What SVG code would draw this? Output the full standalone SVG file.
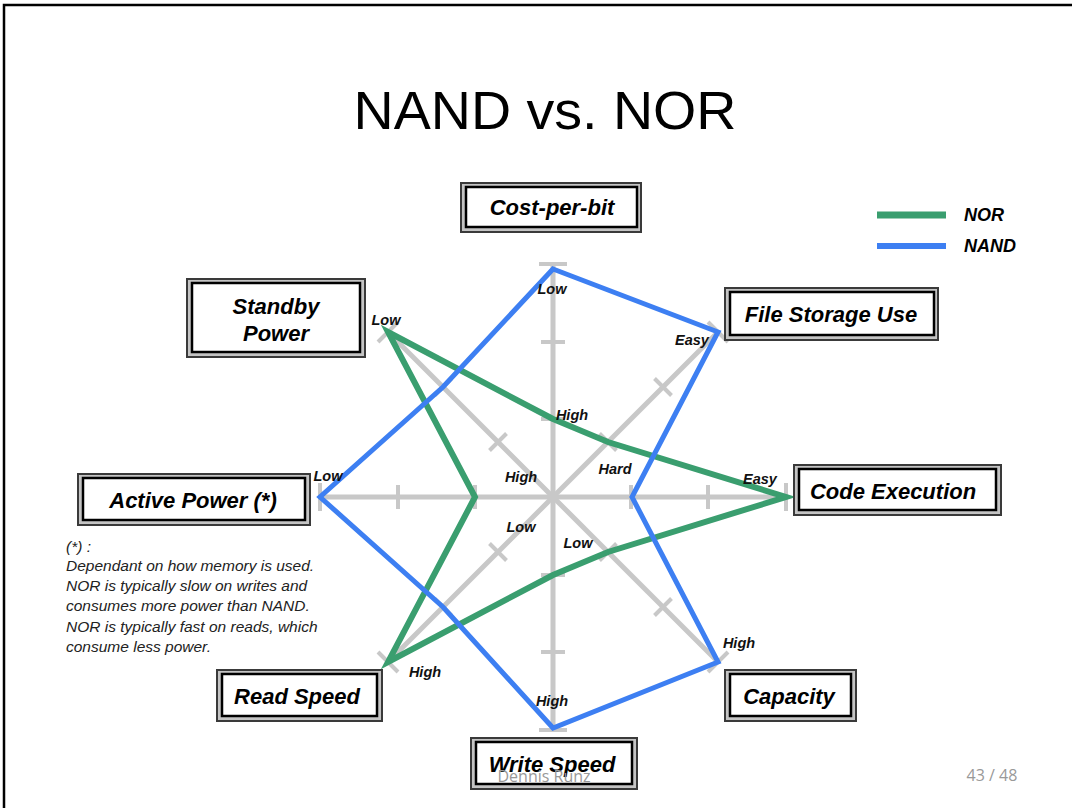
<svg xmlns="http://www.w3.org/2000/svg" width="1072" height="808" viewBox="0 0 1072 808">
  <style>
    .title { font-family: "Liberation Sans", Arial, sans-serif; font-size: 54px; fill: #000; }
    .box-outer { fill: #c4c4c4; stroke: #3a3a3a; stroke-width: 2; }
    .box-inner { fill: #fff; stroke: #000; stroke-width: 2.5; }
    .box-text { font-family: "Liberation Sans", Arial, sans-serif; font-weight: bold; font-style: italic; font-size: 22px; fill: #000; text-anchor: middle; }
    .tick-label { font-family: "Liberation Sans", Arial, sans-serif; font-weight: bold; font-style: italic; font-size: 14.5px; fill: #111; text-anchor: middle; }
    .axis { stroke: #c8c8c8; stroke-width: 5; fill: none; }
    .tick { stroke: #c8c8c8; stroke-width: 4; fill: none; }
    .nor { stroke: #3a9e6f; stroke-width: 6; fill: none; stroke-linejoin: miter; }
    .nand { stroke: #3d7ff2; stroke-width: 5; fill: none; stroke-linejoin: miter; }
    .note { font-family: "Liberation Sans", Arial, sans-serif; font-style: italic; font-size: 15.5px; fill: #222; }
    .legend-text { font-family: "Liberation Sans", Arial, sans-serif; font-weight: bold; font-style: italic; font-size: 18px; fill: #000; }
    .footer { font-family: "Open Sans", "Liberation Sans", sans-serif; font-size: 16px; fill: #999; }
  </style>

  <rect width="1072" height="808" fill="#fff"/>

  <!-- slide frame -->
  <path d="M4 808 V5 H1072" fill="none" stroke="#000" stroke-width="2.5"/>

  <text class="title" x="545" y="129" text-anchor="middle" textLength="383" lengthAdjust="spacingAndGlyphs">NAND vs. NOR</text>

  <!-- radar grid: 8 axes around (553,497), tick marks at 1/3 and 2/3 -->
  <g id="axes">
    <line class="axis" x1="553" y1="264" x2="553" y2="730"/>
    <line class="axis" x1="320" y1="497" x2="786" y2="497"/>
    <line class="axis" x1="388" y1="332" x2="718" y2="662"/>
    <line class="axis" x1="718" y1="332" x2="388" y2="662"/>
    <!-- vertical ticks -->
    <path class="tick" d="M539 264 H567 M541 342 H565 M541 419 H565 M541 575 H565 M541 652 H565 M539 730 H567"/>
    <!-- horizontal ticks -->
    <path class="tick" d="M320 483 V511 M398 485 V509 M475 485 V509 M631 485 V509 M708 485 V509 M786 483 V511"/>
    <!-- diagonal ticks, upper-left to lower-right -->
    <path class="tick" d="M378 342 L398 322 M434.5 395.5 L451.5 378.5 M489.5 450.5 L506.5 433.5 M599.5 560.5 L616.5 543.5 M654.5 615.5 L671.5 598.5 M708 672 L728 652"/>
    <!-- diagonal ticks, upper-right to lower-left -->
    <path class="tick" d="M708 322 L728 342 M654.5 378.5 L671.5 395.5 M599.5 433.5 L616.5 450.5 M489.5 543.5 L506.5 560.5 M434.5 598.5 L451.5 615.5 M378 652 L398 672"/>
  </g>

  <!-- data series -->
  <g id="connectors">
    <polygon id="nor-series" class="nor" points="553,419 608,442 786,497 608,552 553,575 388,662 475,497 388,332"/>
    <polygon id="nand-series" class="nand" points="553,269 718,332 632,497 718,662 553,728 443,607 320,497 443,387"/>
  </g>

  <!-- value labels along the axes -->
  <g id="value-labels">
    <text class="tick-label" x="552" y="294">Low</text>
    <text class="tick-label" x="692" y="345">Easy</text>
    <text class="tick-label" x="572" y="420">High</text>
    <text class="tick-label" x="615" y="474">Hard</text>
    <text class="tick-label" x="521" y="482">High</text>
    <text class="tick-label" x="521" y="532">Low</text>
    <text class="tick-label" x="578" y="548">Low</text>
    <text class="tick-label" x="760" y="484">Easy</text>
    <text class="tick-label" x="739" y="648">High</text>
    <text class="tick-label" x="552" y="706">High</text>
    <text class="tick-label" x="425" y="677">High</text>
    <text class="tick-label" x="328" y="481">Low</text>
    <text class="tick-label" x="386" y="325">Low</text>
  </g>

  <!-- axis title boxes -->
  <g id="cost-per-bit">
    <rect class="box-outer" x="461" y="183" width="180" height="49"/>
    <rect class="box-inner" x="466" y="187" width="171" height="40"/>
    <text class="box-text" x="552" y="215">Cost-per-bit</text>
  </g>
  <g id="file-storage-use">
    <rect class="box-outer" x="725" y="288" width="213" height="52"/>
    <rect class="box-inner" x="730" y="292" width="204" height="43"/>
    <text class="box-text" x="831" y="322">File Storage Use</text>
  </g>
  <g id="code-execution">
    <rect class="box-outer" x="794" y="465" width="207" height="50"/>
    <rect class="box-inner" x="799" y="469" width="197" height="41"/>
    <text class="box-text" x="893" y="499">Code Execution</text>
  </g>
  <g id="capacity">
    <rect class="box-outer" x="725" y="670" width="131" height="51"/>
    <rect class="box-inner" x="730" y="674" width="121" height="42"/>
    <text class="box-text" x="789" y="704">Capacity</text>
  </g>
  <g id="write-speed">
    <rect class="box-outer" x="471" y="738" width="166" height="51"/>
    <rect class="box-inner" x="476" y="742" width="156" height="42"/>
    <text class="box-text" x="552" y="772">Write Speed</text>
  </g>
  <g id="read-speed">
    <rect class="box-outer" x="217" y="670" width="165" height="51"/>
    <rect class="box-inner" x="222" y="674" width="155" height="42"/>
    <text class="box-text" x="297" y="704">Read Speed</text>
  </g>
  <g id="active-power">
    <rect class="box-outer" x="78" y="474" width="232" height="51"/>
    <rect class="box-inner" x="83" y="478" width="222" height="42"/>
    <text class="box-text" x="193" y="508">Active Power (*)</text>
  </g>
  <g id="standby-power">
    <rect class="box-outer" x="187" y="279" width="178" height="78"/>
    <rect class="box-inner" x="192" y="283" width="168" height="69"/>
    <text class="box-text" x="276" y="314">Standby</text>
    <text class="box-text" x="276" y="341">Power</text>
  </g>

  <!-- footnote for Active Power -->
  <g id="footnote">
    <text class="note" x="66" y="552">(*) :</text>
    <text class="note" x="66" y="571">Dependant on how memory is used.</text>
    <text class="note" x="66" y="591">NOR is typically slow on writes and</text>
    <text class="note" x="66" y="611">consumes more power than NAND.</text>
    <text class="note" x="66" y="632">NOR is typically fast on reads, which</text>
    <text class="note" x="66" y="652">consume less power.</text>
  </g>

  <!-- legend -->
  <g id="legend">
    <line x1="877" y1="215" x2="946" y2="215" stroke="#3a9e6f" stroke-width="7"/>
    <line x1="877" y1="246" x2="946" y2="246" stroke="#3d7ff2" stroke-width="6"/>
    <text class="legend-text" x="964" y="221">NOR</text>
    <text class="legend-text" x="964" y="252">NAND</text>
  </g>

  <!-- slide footer -->
  <text class="footer" x="544" y="782" text-anchor="middle">Dennis Runz</text>
  <text class="footer" x="992" y="781" text-anchor="middle" fill="#888">43 / 48</text>
</svg>
